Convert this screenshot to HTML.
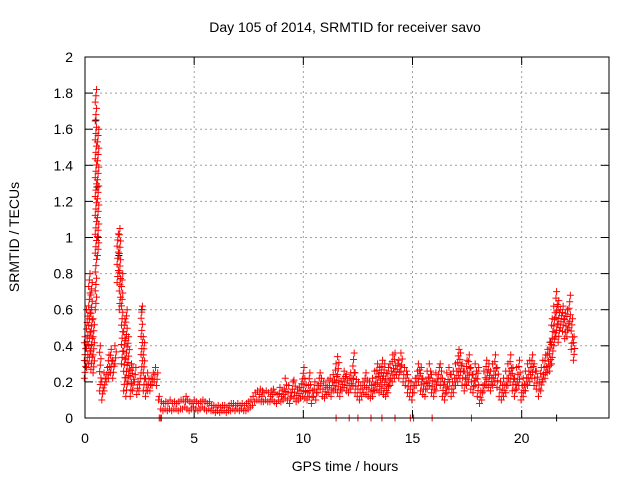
<!DOCTYPE html>
<html><head><meta charset="utf-8"><style>
body{margin:0;background:#fff;}
svg{display:block;font-family:"Liberation Sans",sans-serif;}
</style></head><body>
<svg id="chart" width="640" height="480">
<rect x="0" y="0" width="640" height="480" fill="#fff"/>
<text x="345" y="32" font-size="14" text-anchor="middle" fill="#000">Day 105 of 2014, SRMTID for receiver savo</text>
<text x="345" y="471" font-size="14" text-anchor="middle" fill="#000">GPS time / hours</text>
<text transform="translate(19,237) rotate(-90)" font-size="14" text-anchor="middle" fill="#000">SRMTID / TECUs</text>
<g id="grid"></g><g id="ticks"></g><g id="marks"></g>
<rect x="85" y="57" width="524" height="361" fill="none" stroke="#000" stroke-width="1"/>
</svg>
<script>
const xTicks=[0,5,10,15,20];
const yTicks=[0,0.2,0.4,0.6,0.8,1,1.2,1.4,1.6,1.8,2];
const yTickLabels=["0","0.2","0.4","0.6","0.8","1","1.2","1.4","1.6","1.8","2"];
const tStart=0, tStep=0.1;
const lowVals=[.22,.28,.30,.27,.25,.60,.90,.15,.10,.15,.20,.22,.25,.22,.30,.75,.60,.30,.15,.12,.20,.12,.15,.20,.13,.15,.25,.15,.12,.15,.15,.18,.20,.18,.10,
.05,.04,.05,.04,.05,.04,.05,.05,.04,.05,.05,.06,.05,.04,.05,.06,.05,.04,.05,.06,.05,.04,.05,.04,.04,.03,.04,.03,.04,.04,.03,.04,.04,.05,.04,.05,.04,.05,.04,.04,.05,.06,.07,.09,.10,.10,.09,.09,.10,
.09,.09,.10,.09,.08,.10,.09,.10,.11,.10,.08,.12,.11,.09,.10,.11,.12,.11,.10,.12,
.08,.12,.10,.14,.16,.12,.11,.13,.14,.12,.15,.16,.14,.12,.15,.17,.15,.14,.16,.18,.14,.12,.10,.12,.14,.13,.12,.11,.12,.15,.16,.14,.15,.13,.12,.14,.18,.20,.22,.24,.22,.26,.20,.18,.14,.12,
.10,.14,.18,.20,.15,.13,.12,.16,.18,.14,.12,.15,.20,.18,.12,.10,.14,.16,.12,.14,.18,.20,.22,.18,.15,.18,.20,.16,.14,.18,.12,.08,.10,.15,.18,.17,.15,.18,.20,.17,.12,.10,.12,.14,.18,.20,.15,.12,.16,.18,
.10,.12,.15,.18,.20,.22,.18,.16,.12,.15,.20,.22,.25,.26,.30,.40,.45,.42,.50,.48,.44,.45,.50,.38,.32];
const highVals=[.45,.60,.80,.75,.55,1.82,1.60,.40,.20,.25,.28,.35,.38,.32,.40,1.02,1.05,.80,.55,.60,.45,.30,.28,.28,.20,.22,.62,.45,.22,.25,.22,.25,.28,.25,.12,
.09,.08,.09,.08,.10,.08,.09,.08,.09,.10,.10,.12,.10,.09,.08,.10,.09,.08,.09,.10,.09,.08,.09,.07,.07,.06,.07,.06,.07,.07,.06,.07,.08,.08,.07,.08,.07,.08,.07,.08,.09,.10,.12,.14,.15,.16,.15,.14,.15,
.14,.15,.16,.14,.13,.17,.15,.16,.22,.18,.14,.20,.21,.16,.17,.19,.28,.22,.18,.25,
.15,.20,.18,.22,.25,.20,.18,.21,.22,.20,.24,.30,.34,.20,.22,.26,.24,.22,.25,.36,.25,.20,.18,.20,.22,.25,.20,.18,.22,.26,.30,.28,.32,.30,.25,.28,.30,.35,.36,.30,.32,.36,.28,.26,.24,.20,
.18,.22,.26,.30,.28,.22,.20,.26,.30,.24,.20,.25,.28,.30,.22,.20,.25,.28,.24,.26,.30,.38,.36,.30,.26,.32,.35,.28,.24,.30,.28,.15,.18,.26,.32,.30,.26,.30,.35,.28,.20,.18,.22,.26,.30,.35,.28,.22,.28,.32,
.18,.22,.26,.30,.32,.35,.30,.26,.20,.28,.32,.35,.38,.42,.55,.62,.70,.65,.60,.62,.58,.60,.68,.55,.45];
const zeroTimes=[3.4,3.45,3.5,11.5,12.1,12.5,13.1,13.6,14.2,14.9,15.05,15.9,17.7];
const blackTimes=[0.5,0.55,0.6,1.55,2.6,21.3,21.6];
const blackVals=[1.65,1.28,1.0,0.9,0.6,0.42,0];
const X0=85,X1=609,Y0=418,Y1=57;
function xs(t){return X0+(t/24)*(X1-X0);}
function ys(v){return Y0-(v/2)*(Y0-Y1);}
const NS="http://www.w3.org/2000/svg";
const grid=document.getElementById('grid'),ticks=document.getElementById('ticks'),marks=document.getElementById('marks');
function mk(tag,attrs,parent){const e=document.createElementNS(NS,tag);for(const k in attrs)e.setAttribute(k,attrs[k]);parent.appendChild(e);return e;}
yTicks.forEach((v,i)=>{
 const y=ys(v);
 if(i>0&&i<yTicks.length-1){const g=mk('line',{x1:X0,x2:X1,y1:y,y2:y,stroke:'#a0a0a0','stroke-dasharray':'2,3'},grid);
 
 }
 mk('line',{x1:X0,x2:X0+8,y1:y,y2:y,stroke:'#000'},ticks);
 mk('line',{x1:X1-8,x2:X1,y1:y,y2:y,stroke:'#000'},ticks);
 const t=mk('text',{x:X0-12,y:y+5,'font-size':14,'text-anchor':'end'},ticks);
 t.textContent=yTickLabels[i];
 
 
});
xTicks.forEach(v=>{
 const x=xs(v);
 if(v>0){const g=mk('line',{x1:x,x2:x,y1:Y0,y2:Y1,stroke:'#a0a0a0','stroke-dasharray':'2,3'},grid);
 
 }
 mk('line',{x1:x,x2:x,y1:Y0,y2:Y0-8,stroke:'#000'},ticks);
 mk('line',{x1:x,x2:x,y1:Y1,y2:Y1+8,stroke:'#000'},ticks);
 const t=mk('text',{x:x,y:Y0+25,'font-size':14,'text-anchor':'middle'},ticks);
 t.textContent=String(v);
 
 
});
function plus(t,v,color){
 const x=xs(t),y=ys(v);
 const p=mk('path',{d:`M${x-3.5},${y}H${x+3.5}M${x},${y-3.5}V${y+3.5}`,stroke:color,'stroke-width':1,fill:'none'},marks);
 
 
}
blackTimes.forEach((t,i)=>plus(t,blackVals[i],'#000'));
lowVals.forEach((lo,i)=>{
 const t=tStart+i*tStep, hi=highVals[i];
 const n=Math.max(1,Math.round((hi-lo)/0.035));
 for(let k=0;k<=n;k++){
  const tt=t+((k%3)-1)*0.03;
  plus(tt,lo+(hi-lo)*k/n,'#ff0000');
 }
});
zeroTimes.forEach(t=>plus(t,0,'#ff0000'));
</script>
</body></html>
